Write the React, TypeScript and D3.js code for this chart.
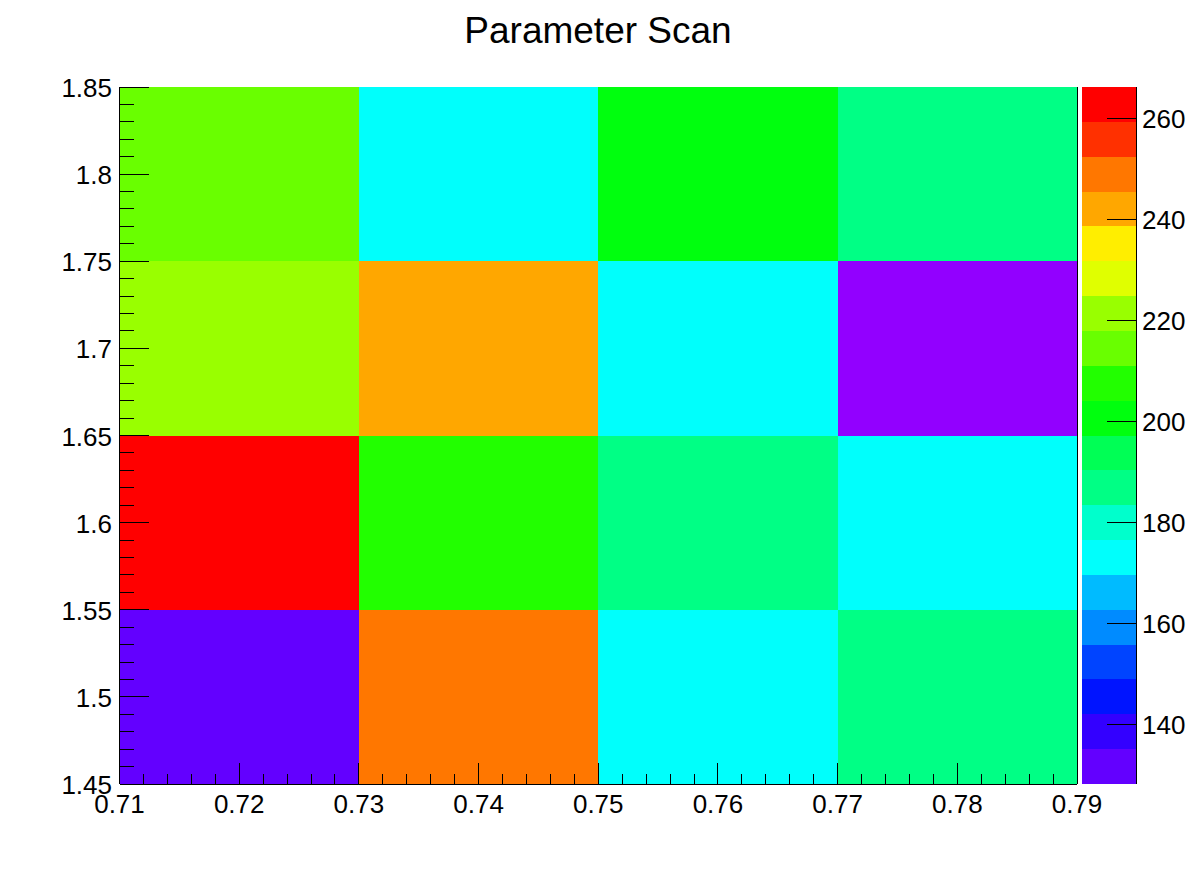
import React from "react";
import * as d3 from "d3";

// ---- data ----
const xEdges = [0.71, 0.73, 0.75, 0.77, 0.79];
const yEdges = [1.45, 1.55, 1.65, 1.75, 1.85];
// rows from bottom (y bin 1.45-1.55) to top, columns left to right
const row1 = [128.2, 249.5, 172.8, 186.4];
const row2 = [266.3, 207.9, 187.2, 173.5];
const row3 = [221.0, 242.6, 173.0, 118.0];
const row4 = [214.2, 172.5, 200.9, 186.0];
const zRows = [row1, row2, row3, row4];
const zMin = 128.2;
const zMax = 266.3;
const nContours = 20;
const xTicks = [0.71, 0.72, 0.73, 0.74, 0.75, 0.76, 0.77, 0.78, 0.79];
const yTicks = [1.45, 1.5, 1.55, 1.6, 1.65, 1.7, 1.75, 1.8, 1.85];
const zTicks = [140, 160, 180, 200, 220, 240, 260];
const title = "Parameter Scan";

// ---- ROOT "pretty palette" (palette 1) ----
const palette: string[] = [];
for (let i = 0; i < 49; i++) {
  const hue = 280 - (i + 1) * (280 / 50);
  palette.push(d3.hsl(hue, 1, 0.5).formatHex());
}
palette.push("#ff0000");
const nColors = palette.length;

function cellColor(z: number): string | null {
  const scale = nContours / (zMax - zMin);
  const c = Math.trunc(0.01 + (z - zMin) * scale);
  let t = Math.trunc(((c + 0.99) * nColors) / nContours);
  if (t > nColors - 1) t = nColors - 1;
  if (t < 0) return null;
  return palette[t];
}

const W = 1196;
const H = 872;
const left = 119.5;
const right = 1077;
const top = 87;
const bottom = 784;
const palX0 = 1082;
const palX1 = 1136;
const font = "'Liberation Sans', Arial, Helvetica, sans-serif";

export default function App() {
  const x = d3.scaleLinear().domain([0.71, 0.79]).range([left, right]);
  const y = d3.scaleLinear().domain([1.45, 1.85]).range([bottom, top]);
  const z = d3.scaleLinear().domain([zMin, zMax]).range([bottom, top]);

  const cells: React.ReactNode[] = [];
  zRows.forEach((row, j) => {
    row.forEach((v, i) => {
      const col = cellColor(v);
      if (!col) return;
      const x0 = x(xEdges[i]);
      const x1 = x(xEdges[i + 1]);
      const y0 = y(yEdges[j + 1]);
      const y1 = y(yEdges[j]);
      cells.push(
        <rect key={`c${i}-${j}`} x={x0} y={y0} width={x1 - x0} height={y1 - y0} fill={col} shapeRendering="crispEdges" />
      );
    });
  });

  const dz = (zMax - zMin) / nContours;
  const palRects = d3.range(nContours).map((k) => {
    const y0 = z(zMin + (k + 1) * dz);
    const y1 = z(zMin + k * dz);
    const t = Math.min(nColors - 1, Math.trunc(((k + 0.99) * nColors) / nContours));
    return <rect key={`p${k}`} x={palX0} y={y0} width={palX1 - palX0} height={y1 - y0} fill={palette[t]} shapeRendering="crispEdges" />;
  });

  // minor ticks
  const xMinor: number[] = [];
  for (let i = 0; i < xTicks.length - 1; i++) {
    for (let s = 1; s < 5; s++) xMinor.push(xTicks[i] + (s * (xTicks[i + 1] - xTicks[i])) / 5);
  }
  const yMinor: number[] = [];
  for (let i = 0; i < yTicks.length - 1; i++) {
    for (let s = 1; s < 5; s++) yMinor.push(yTicks[i] + (s * (yTicks[i + 1] - yTicks[i])) / 5);
  }

  const fmtX = (v: number) => d3.format(".2f")(v);
  const fmtY = (v: number) => {
    const s = d3.format(".2f")(v);
    return s.endsWith("0") ? s.slice(0, -1) : s;
  };

  return (
    <svg width={W} height={H} style={{ position: "absolute", left: 0, top: 0, background: "#fff" }} fontFamily={font}>
      <rect x={0} y={0} width={W} height={H} fill="#fff" />
      <text x={598} y={43} fontSize={37} textAnchor="middle" fill="#000">{title}</text>
      {cells}
      {palRects}
      <g stroke="#000" strokeWidth={1} shapeRendering="crispEdges">
        <line x1={left} y1={bottom} x2={right} y2={bottom} />
        <line x1={left} y1={top} x2={left} y2={bottom} />
        <line x1={right} y1={top} x2={right} y2={bottom} />
        <line x1={palX1} y1={top} x2={palX1} y2={bottom} />
        {xTicks.map((v) => (
          <line key={`xt${v}`} x1={x(v)} x2={x(v)} y1={bottom} y2={bottom - 21} />
        ))}
        {xMinor.map((v, i) => (
          <line key={`xm${i}`} x1={x(v)} x2={x(v)} y1={bottom} y2={bottom - 10} />
        ))}
        {yTicks.map((v) => (
          <line key={`yt${v}`} x1={left} x2={left + 29} y1={y(v)} y2={y(v)} />
        ))}
        {yMinor.map((v, i) => (
          <line key={`ym${i}`} x1={left} x2={left + 14} y1={y(v)} y2={y(v)} />
        ))}
        {zTicks.map((v) => (
          <line key={`zt${v}`} x1={palX1} x2={palX1 - 29} y1={z(v)} y2={z(v)} />
        ))}
      </g>
      <g fontSize={26} fill="#000">
        {xTicks.map((v) => (
          <text key={`xl${v}`} x={x(v)} y={813} textAnchor="middle">{fmtX(v)}</text>
        ))}
        {yTicks.map((v) => (
          <text key={`yl${v}`} x={112} y={y(v) + 10} textAnchor="end">{fmtY(v)}</text>
        ))}
        {zTicks.map((v) => (
          <text key={`zl${v}`} x={1142} y={z(v) + 9.5} textAnchor="start">{v}</text>
        ))}
      </g>
    </svg>
  );
}
